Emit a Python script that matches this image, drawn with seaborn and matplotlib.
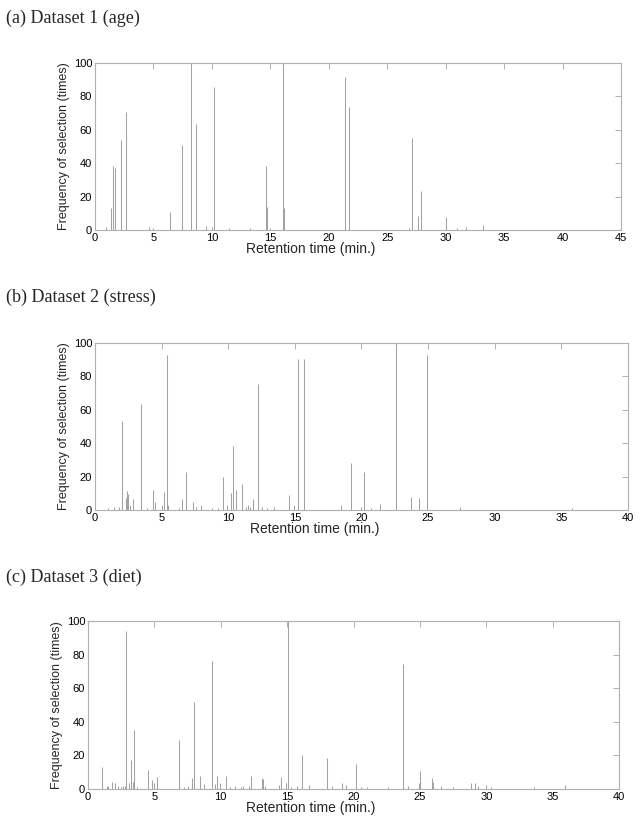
import matplotlib
matplotlib.use("Agg")
import matplotlib.pyplot as plt
import seaborn as sns
import numpy as np
import pandas as pd

# retention times (min.) and selection frequencies
rt_age = [0.91, 1.34, 1.57, 1.68, 2.25, 2.65, 2.68, 4.65, 5.0, 6.42, 7.42, 8.25, 8.67,
          9.53, 10.0, 10.2, 11.5, 13.3, 14.6, 14.75, 15.0, 16.05, 16.2, 21.4, 21.75,
          26.9, 27.08, 27.6, 27.85, 30.0, 30.97, 31.7, 33.2]
freq_age = [2, 13.4, 38.6, 37, 54, 2, 70.6, 1.6, 1.5, 10.6, 51, 100, 63.6,
            2.4, 2, 85.4, 1.2, 1.2, 38.6, 14, 1.5, 100, 13, 91.6, 73.6,
            1, 55, 8.4, 23.4, 7.6, 1.4, 2, 3]

rt_stress = [1.0, 1.4, 1.8, 2.03, 2.33, 2.43, 2.5, 2.63, 2.88, 3.43, 3.88, 4.38, 4.53,
             5.0, 5.18, 5.38, 5.5, 6.33, 6.55, 6.85, 7.33, 7.58, 7.95, 8.75, 9.25,
             9.63, 9.93, 10.18, 10.38, 10.6, 11.05, 11.3, 11.45, 11.6, 11.88, 12.25,
             12.5, 12.88, 13.4, 14.58, 14.95, 15.25, 15.7, 18.5, 19.2, 19.93, 20.18,
             20.68, 21.38, 22.58, 23.68, 24.33, 24.95, 27.43, 35.8]
freq_stress = [1, 2, 1.5, 53.4, 7, 11.4, 9.4, 3, 6.6, 63.6, 1.2, 12, 5,
               3, 11, 93, 3, 1.4, 6.4, 23, 5, 2, 3, 1.2, 1.2,
               20, 3, 10, 38.6, 12, 15.4, 2, 3, 1.5, 6.4, 75.6,
               1.5, 1, 1.5, 9, 3, 90.6, 90.6, 3, 28, 2, 23,
               1.2, 3.4, 100, 8, 7, 92.6, 2, 1]

rt_diet = [1.03, 1.4, 1.53, 1.83, 2.03, 2.28, 2.46, 2.66, 2.78, 2.88, 3.1, 3.26, 3.36,
           3.43, 3.68, 4.49, 4.84, 4.99, 5.21, 6.84, 7.22, 7.54, 7.87, 7.95, 8.4,
           8.72, 9.37, 9.55, 9.75, 9.97, 10.4, 10.68, 11.1, 11.55, 11.68, 12.1, 12.28,
           13.1, 13.18, 13.36, 14.38, 14.53, 14.94, 15.09, 15.3, 15.74, 16.14, 16.64,
           18.02, 18.4, 19.12, 19.47, 20.2, 20.57, 21.0, 22.58, 23.71, 24.1, 24.94,
           25.0, 25.89, 25.96, 26.59, 27.47, 28.85, 29.15, 29.35, 29.98, 30.35,
           33.6, 35.94]
freq_diet = [13.3, 2, 2, 4.4, 3.4, 2, 1.4, 2, 2, 94, 3.4, 17.3, 4.4,
             35, 1.4, 11.3, 5.4, 3.4, 7.1, 29, 1.4, 2, 6.3, 52, 8,
             2.8, 76.4, 2.8, 7.5, 3.4, 7.5, 1.4, 2, 1.4, 2, 2, 7.7,
             6.3, 5.8, 2, 2.4, 7.3, 3.4, 100, 1.4, 2, 20.2, 2.4,
             18.3, 2, 3.4, 2.4, 15, 1.4, 1.4, 1.4, 74.4, 2, 3.4,
             10.7, 6.3, 4.4, 2, 1.4, 3.4, 3.4, 2, 2.4, 1.4,
             1, 2.4]

titles = ["(a) Dataset 1 (age)", "(b) Dataset 2 (stress)", "(c) Dataset 3 (diet)"]
xmax = [45, 40, 40]

sns.set_style("white")
plt.rcParams['font.family'] = ['Liberation Sans', 'DejaVu Sans']

fig = plt.figure(figsize=(6.4, 8.26), dpi=100)
boxes = [[0.1484, 0.7215, 0.822, 0.2022],
         [0.1484, 0.3826, 0.8328, 0.2022],
         [0.1375, 0.0448, 0.8297, 0.2034]]
title_y = [1 - 18 / 826, 1 - 297 / 826, 1 - 577 / 826]
xlabel_x = [0.41, 0.413, 0.42]   # the x labels sit left of centre in the original

data = [(rt_age, freq_age), (rt_stress, freq_stress), (rt_diet, freq_diet)]
for i, (rt, fq) in enumerate(data):
    df = pd.DataFrame({'rt': rt, 'freq': fq})
    ax = fig.add_axes(boxes[i])
    ax.vlines(df['rt'], 0, df['freq'], color='#a2a2a2', linewidth=0.75)
    ax.set_xlim(0, xmax[i])
    ax.set_ylim(0, 100)
    ax.set_xticks(np.arange(0, xmax[i] + 1, 5))
    ax.set_yticks(np.arange(0, 101, 20))
    for s in ax.spines.values():
        s.set_color('#b0b0b0')
        s.set_linewidth(0.8)
    ax.tick_params(direction='in', length=4, width=0.7, color='#b0b0b0',
                   top=True, right=True, labelsize=8, pad=2, labelcolor='black')
    ax.set_xlabel("Retention time (min.)", fontsize=10, labelpad=0)
    ax.xaxis.set_label_coords(xlabel_x[i], -0.07)
    ax.set_ylabel("Frequency of selection (times)", fontsize=9, labelpad=3)
    fig.text(6 / 640, title_y[i], titles[i], fontsize=13, va='center', ha='left',
             family=['Liberation Serif', 'DejaVu Serif'])

fig.savefig("out.png", dpi=100)
